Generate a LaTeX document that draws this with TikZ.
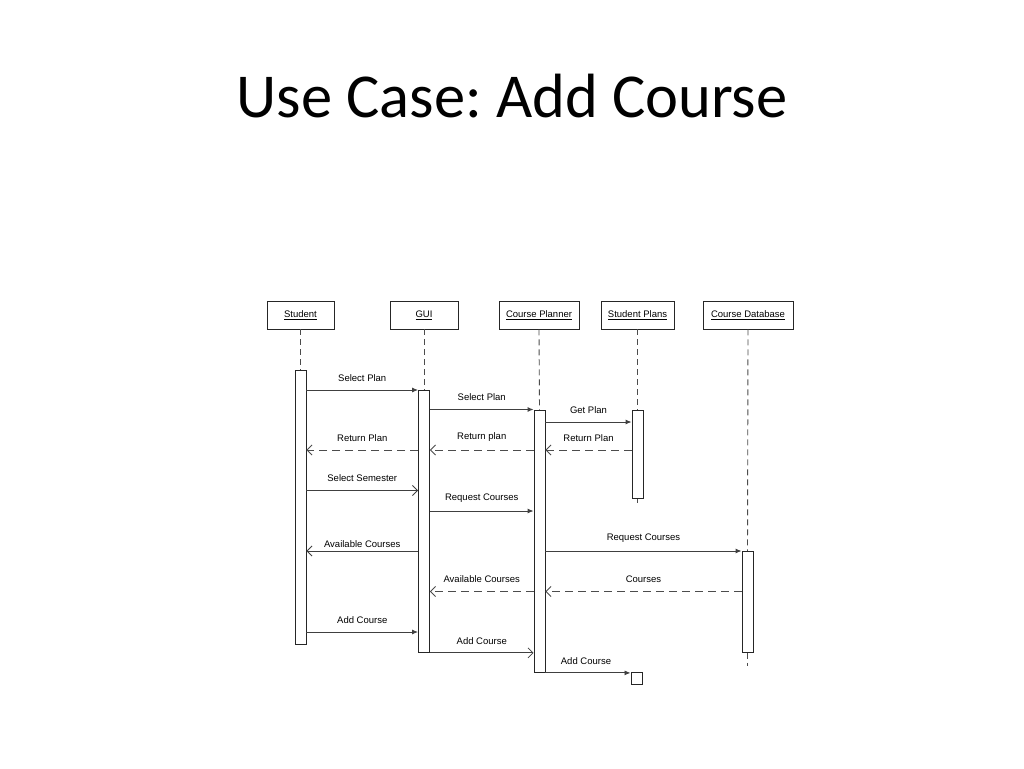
\documentclass[tikz,border=0pt]{standalone}
\usepackage{fontspec}
\setmainfont{Liberation Sans}
\newfontfamily\titlefont{Carlito}
\usetikzlibrary{arrows.meta}
\frenchspacing
\begin{document}
\begin{tikzpicture}[x=1pt,y=-1pt,
  hdr/.style={draw=black!85,line width=0.9pt,minimum width=#1,minimum height=28pt,inner sep=0pt,font=\fontsize{9.5}{11}\selectfont},
  act/.style={draw=black!85,line width=0.9pt,fill=white,minimum width=11pt,inner sep=0pt,anchor=north},
  life/.style={draw=black!70,line width=0.9pt,dash pattern=on 6pt off 4pt},
  msg/.style={draw=black!75,line width=0.9pt,-{Latex[length=6pt,width=5pt]}},
  ret/.style={draw=black!70,line width=0.9pt,dash pattern=on 8pt off 5pt,-{Straight Barb[length=5pt,width=10pt,line width=0.8pt]}},
  sync/.style={draw=black!75,line width=0.9pt,-{Straight Barb[length=5pt,width=10pt,line width=0.8pt]}},
  lbl/.style={font=\fontsize{9.5}{11}\selectfont,inner sep=0pt}]
\useasboundingbox[fill=white] (0,0) rectangle (1024,768);
\node[font=\titlefont\fontsize{62.5}{68}\selectfont] (title) at (512,96) {Use Case: Add Course};
% headers
\node[hdr=67pt] (st) at (300.5,315) {\underline{Student}};
\node[hdr=68pt] (gui) at (424,315) {\underline{GUI}};
\node[hdr=80pt] (cp) at (539,315) {\underline{Course Planner}};
\node[hdr=73pt] (sp) at (637.5,315) {\underline{Student Plans}};
\node[hdr=90pt] (cd) at (748,315) {\underline{Course Database}};
% activations
\node[act,minimum height=274pt] (sA) at (300.5,370) {};
\node[act,minimum height=262pt] (gA) at (424,390) {};
\node[act,minimum height=262pt] (cA) at (539.5,410) {};
\node[act,minimum height=88pt] (pA) at (637.5,410) {};
\node[act,minimum height=101pt] (dA) at (747.5,551) {};
\coordinate (pEnd) at (637.5,503);
\coordinate (dEnd) at (747.5,666);
% lifelines
\draw[life] (st.south) -- (sA.north);
\draw[life] (gui.south) -- (gA.north);
\draw[life] (cp.south) -- (cA.north);
\draw[life] (sp.south) -- (pA.north);
\draw[life] (cd.south) -- (dA.north);
\draw[life] (pA.south) -- (pEnd);
\draw[life] (dA.south) -- (dEnd);
% end square
\node[draw=black!85,line width=0.9pt,minimum width=11pt,minimum height=12pt,inner sep=0pt,anchor=north west] (fin) at (630.5,672) {};
% messages
\draw[msg] (sA.east |- 0,390) -- node[lbl,above=8pt] {Select Plan} (gA.west |- 0,390);
\draw[msg] (gA.east |- 0,409.5) -- node[lbl,above=8pt] {Select Plan} (cA.west |- 0,409.5);
\draw[msg] (cA.east |- 0,422) -- node[lbl,above=8pt] {Get Plan} (pA.west |- 0,422);
\draw[ret] (pA.west |- 0,450) -- node[lbl,above=8pt] {Return Plan} (cA.east |- 0,450);
\draw[ret] (cA.west |- 0,450) -- node[lbl,above=8pt] {Return plan} (gA.east |- 0,450);
\draw[ret] (gA.west |- 0,450) -- node[lbl,above=8pt] {Return Plan} (sA.east |- 0,450);
\draw[sync] (sA.east |- 0,490.5) -- node[lbl,above=8pt] {Select Semester} (gA.west |- 0,490.5);
\draw[msg] (gA.east |- 0,511) -- node[lbl,above=8pt] {Request Courses} (cA.west |- 0,511);
\draw[msg] (cA.east |- 0,551) -- node[lbl,above=8pt] {Request Courses} (dA.west |- 0,551);
\draw[sync] (gA.west |- 0,551) -- node[lbl,above=3pt] {Available Courses} (sA.east |- 0,551);
\draw[ret] (dA.west |- 0,591.5) -- node[lbl,above=8pt] {Courses} (cA.east |- 0,591.5);
\draw[ret] (cA.west |- 0,591.5) -- node[lbl,above=8pt] {Available Courses} (gA.east |- 0,591.5);
\draw[msg] (sA.east |- 0,632) -- node[lbl,above=8pt] {Add Course} (gA.west |- 0,632);
\draw[sync] (gA.south east) -- node[lbl,above=8pt] {Add Course} (cA.west |- gA.south);
\draw[msg] (cA.south east) -- node[lbl,above=8pt,xshift=-2pt] {Add Course} (fin.west |- cA.south);
\end{tikzpicture}
\end{document}
